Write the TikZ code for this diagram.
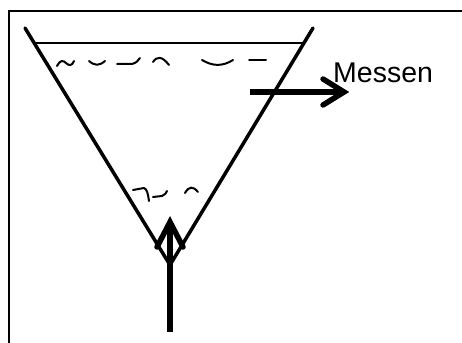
\documentclass[tikz,border=0pt]{standalone}
\usepackage{fontspec}
\setmainfont{Liberation Sans}
\tikzset{
  frameline/.style={line width=2pt},
  funnelline/.style={line width=3.5pt, line cap=round},
  levelline/.style={line width=1.8pt},
  squiggle/.style={line width=2pt, line cap=round, line join=round},
  thickarrow/.style={line width=6pt},
  barbs/.style={line width=5.5pt, line cap=round, line join=miter},
  lbl/.style={font=\fontsize{28.5}{30}\selectfont, inner sep=0pt}
}
\begin{document}
\begin{tikzpicture}[x=1pt,y=-1pt]
\useasboundingbox (0,0) rectangle (462,342);
\clip (0,0) rectangle (462,342);
\fill[white] (0,0) rectangle (462,342);
% frame (cut at right and bottom)
\draw[frameline] (9,11.5) rectangle (480,360);
% funnel
\coordinate (TL) at (25,28);
\coordinate (TR) at (313,28);
\coordinate (apex) at (170,265);
\draw[funnelline] (TL) -- (apex) -- (TR);
% liquid level
\coordinate (LL) at (35,43);
\coordinate (LR) at (304,43);
\draw[levelline] (LL) -- (LR);
% upper squiggles
\draw[squiggle] (57,66) .. controls (60,60) and (63,60) .. (66,63) .. controls (69,66) and (72,66) .. (74,61);
\draw[squiggle] (89,61) .. controls (95,66) and (99,66) .. (105,61);
\draw[squiggle] (117,64) -- (132,64) .. controls (136,63) and (138,61) .. (140,58);
\draw[squiggle] (153,62) .. controls (157,56) and (162,56) .. (169,65);
\draw[squiggle] (202,60) .. controls (212,66) and (222,67) .. (233,60);
\draw[squiggle] (249,60) -- (266,60);
% lower squiggles
\draw[squiggle] (133,190) -- (144,188) .. controls (147,189) and (148,194) .. (149,201);
\draw[squiggle] (153,197) -- (162,196) .. controls (165,195) and (166,193) .. (167,191);
\draw[squiggle] (185,193) .. controls (189,186) and (193,186) .. (198,192);
% inflow arrow (bottom)
\coordinate (inB) at (170,332);
\coordinate (inT) at (170,224);
\coordinate (inL) at (157,247);
\coordinate (inR) at (183,247);
\draw[thickarrow] (inB) -- (inT);
\draw[barbs] (inL) -- (170,222) -- (inR);
% measurement arrow
\coordinate (mS) at (250,92);
\coordinate (mE) at (342,92);
\coordinate (mU) at (323,79);
\coordinate (mD) at (323,105);
\draw[thickarrow] (mS) -- (mE);
\draw[barbs] (mU) -- (344,92) -- (mD);
\node[lbl, anchor=base west] (messen) at (333,83) {Messen};
\end{tikzpicture}
\end{document}
